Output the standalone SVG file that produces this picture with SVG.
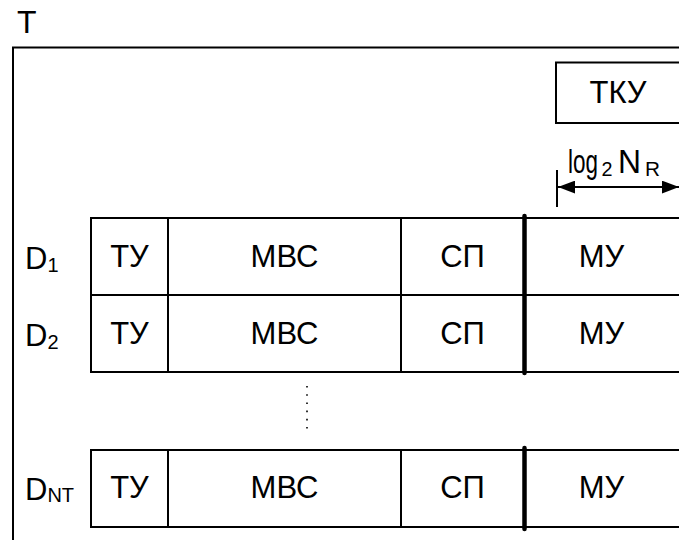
<svg xmlns="http://www.w3.org/2000/svg" width="679" height="540" viewBox="0 0 679 540">
<defs>
<style>
text{font-family:"Liberation Sans",Arial,sans-serif;font-size:31px;fill:#000}
.c{text-anchor:middle}
.sub{font-size:20px}
.ln{stroke:#000;stroke-width:2;fill:none}
.thick{stroke:#000;stroke-width:4.5;stroke-linecap:round}
</style>
<marker id="ah" viewBox="0 0 16 12" refX="16" refY="6" markerWidth="17" markerHeight="13" markerUnits="userSpaceOnUse" orient="auto-start-reverse">
<path d="M0,0 L16,6 L0,12 Z" fill="#000"/>
</marker>
</defs>
<rect width="679" height="540" fill="#fff"/>
<g id="frame">
<text x="17" y="33" style="font-size:32px">T</text>
<path class="ln" d="M13,540 V47.5 H682"/>
</g>
<g id="tku">
<rect class="ln" x="556" y="62.5" width="130" height="60.5"/>
<text class="c" x="618" y="103">ТКУ</text>
</g>
<g id="dimension">
<text y="173" style="font-size:33px"><tspan x="568" textLength="30" lengthAdjust="spacingAndGlyphs">log</tspan><tspan class="sub" x="601.5" dy="3" textLength="11" lengthAdjust="spacingAndGlyphs">2</tspan><tspan x="618" dy="-3" textLength="23" lengthAdjust="spacingAndGlyphs">N</tspan><tspan class="sub" x="645" dy="3" textLength="15" lengthAdjust="spacingAndGlyphs">R</tspan></text>
</g>
<g id="connectors">
<line x1="557" y1="170" x2="557" y2="207" stroke="#000" stroke-width="2"/>
<line x1="558" y1="187" x2="679" y2="187" stroke="#000" stroke-width="2" marker-start="url(#ah)" marker-end="url(#ah)"/>
<line x1="307" y1="386" x2="307" y2="430" stroke="#000" stroke-width="1.6" stroke-dasharray="1.6 6.6"/>
</g>
<g id="row1">
<text x="25" y="269">D<tspan class="sub" dy="3">1</tspan></text>
<path class="ln" d="M682,218 H91 V295 H682 M168,218 V295 M401,218 V295"/>
<text class="c" x="129.5" y="267">ТУ</text>
<text class="c" x="284.5" y="267">МВС</text>
<text class="c" x="462.5" y="267">СП</text>
<text class="c" x="601.5" y="267">МУ</text>
</g>
<g id="row2">
<text x="25" y="346">D<tspan class="sub" dy="3">2</tspan></text>
<path class="ln" d="M91,295 V372 H682 M168,295 V372 M401,295 V372"/>
<text class="c" x="129.5" y="344">ТУ</text>
<text class="c" x="284.5" y="344">МВС</text>
<text class="c" x="462.5" y="344">СП</text>
<text class="c" x="601.5" y="344">МУ</text>
</g>
<line class="thick" x1="524.5" y1="216" x2="524.5" y2="373"/>
<g id="rowNT">
<text x="25" y="500">D<tspan class="sub" dy="2">NT</tspan></text>
<path class="ln" d="M682,450 H91 V527 H682 M168,450 V527 M401,450 V527"/>
<text class="c" x="129.5" y="498">ТУ</text>
<text class="c" x="284.5" y="498">МВС</text>
<text class="c" x="462.5" y="498">СП</text>
<text class="c" x="601.5" y="498">МУ</text>
<line class="thick" x1="524.5" y1="448" x2="524.5" y2="529"/>
</g>
</svg>
